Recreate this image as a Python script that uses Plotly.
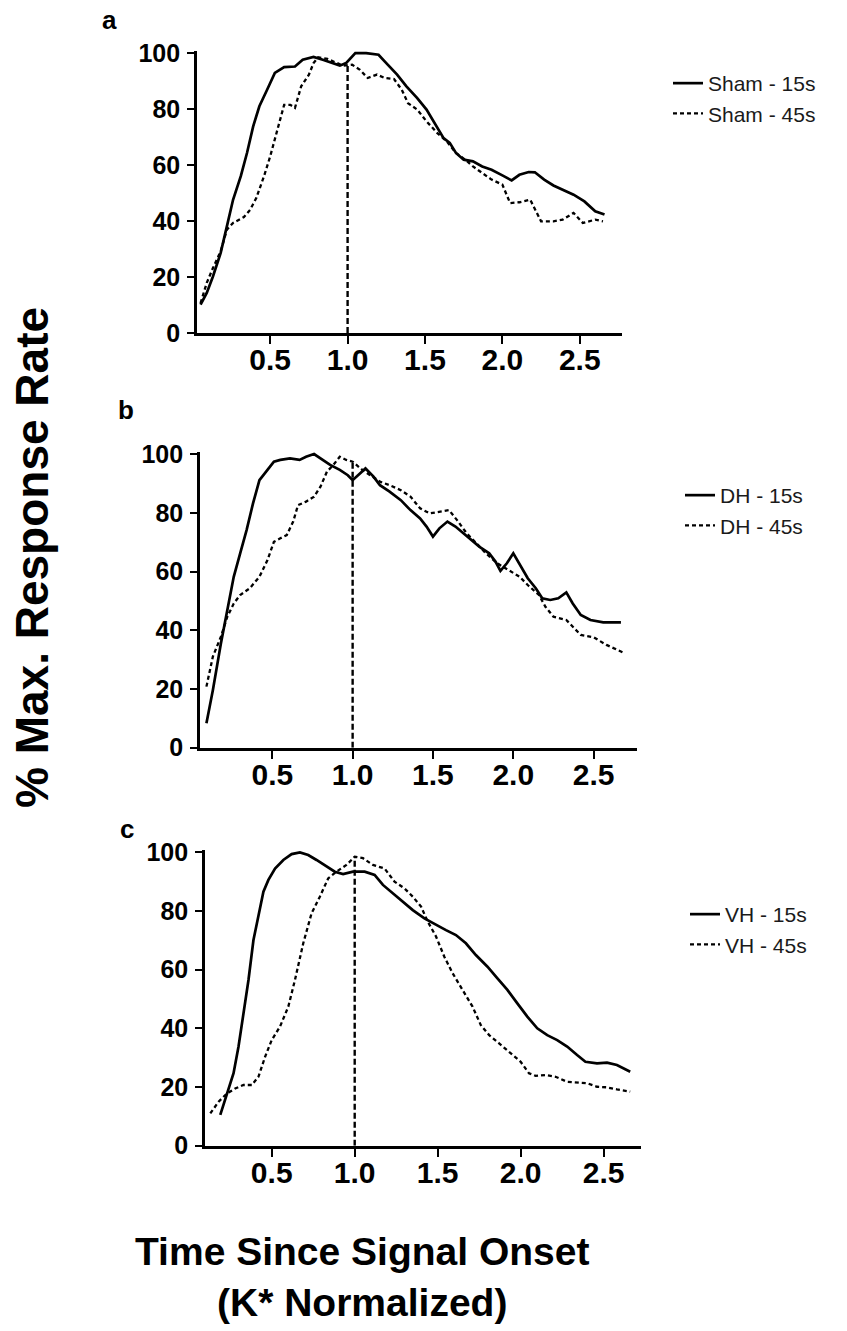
import plotly.graph_objects as go

W, H = 847, 1331

# ---------------- data ----------------
sham15_x = [0.05,0.09,0.13,0.18,0.22,0.26,0.31,0.35,0.39,0.43,0.48,0.53,0.59,0.66,0.71,0.78,0.84,0.91,0.95,0.99,
            1.05,1.12,1.20,1.25,1.32,1.38,1.45,1.51,1.58,1.62,1.66,1.70,1.75,1.81,1.87,1.93,2.00,2.06,2.11,2.17,
            2.21,2.27,2.33,2.39,2.46,2.53,2.60,2.66]
sham15_y = [10.1,14.3,20.2,28.6,38.1,47.6,56.0,64.3,73.8,81.0,86.9,92.9,95.0,95.2,97.6,98.6,97.6,96.4,95.5,96.4,
            100,100,99.4,96.4,92.3,88.1,83.9,79.8,73.2,69.6,67.9,64.3,61.9,61.3,59.5,58.3,56.3,54.5,56.5,57.5,
            57.4,54.8,52.7,51.2,49.4,47.0,43.5,42.3]
sham45_x = [0.05,0.09,0.13,0.18,0.22,0.26,0.33,0.37,0.41,0.46,0.50,0.54,0.59,0.63,0.66,0.70,0.75,0.78,0.81,0.87,
            0.92,0.97,1.03,1.08,1.13,1.19,1.24,1.30,1.35,1.39,1.45,1.51,1.58,1.64,1.70,1.76,1.81,1.87,1.93,2.00,
            2.05,2.11,2.18,2.25,2.33,2.39,2.46,2.52,2.60,2.65]
sham45_y = [10.7,17.9,23.2,29.2,36.9,39.3,41.4,44.0,48.2,56.0,63.1,71.4,81.5,81.5,80.4,88.1,92.3,96.4,98.5,97.9,
            96.7,95.5,95.8,94.0,91.1,92.3,91.1,90.7,86.9,82.1,79.8,75.6,71.4,68.5,64.3,61.9,59.5,57.1,54.8,53.0,
            46.4,46.7,47.6,39.9,39.9,40.5,42.9,39.3,40.5,39.9]

dh15_x = [0.09,0.13,0.18,0.22,0.26,0.30,0.34,0.38,0.42,0.47,0.51,0.55,0.61,0.67,0.71,0.76,0.80,0.86,0.92,0.97,
          1.00,1.05,1.08,1.13,1.17,1.23,1.30,1.36,1.42,1.46,1.50,1.54,1.59,1.64,1.69,1.74,1.79,1.85,1.89,1.92,
          1.96,2.00,2.04,2.09,2.14,2.18,2.23,2.28,2.33,2.37,2.42,2.48,2.56,2.67]
dh15_y = [8.3,19.6,35.5,46.9,58.2,66.2,74.1,83.2,91.1,94.6,97.4,98.0,98.5,98.0,99.1,100,98.5,96.3,94.6,92.8,
          91.1,93.4,95.1,92.3,89.4,87.2,84.3,80.9,78.1,75.3,71.9,74.7,77.0,75.3,73.0,70.7,68.4,66.2,63.3,60.2,
          62.8,66.2,62.2,57.7,54.3,50.9,50.3,50.9,52.9,49.1,45.2,43.5,42.7,42.7]
dh45_x = [0.09,0.13,0.18,0.22,0.26,0.30,0.36,0.42,0.47,0.51,0.55,0.59,0.63,0.66,0.71,0.76,0.80,0.84,0.88,0.92,
          0.96,1.00,1.06,1.11,1.17,1.23,1.30,1.36,1.42,1.48,1.54,1.60,1.65,1.71,1.77,1.83,1.90,1.97,2.04,2.09,
          2.16,2.20,2.25,2.33,2.42,2.50,2.58,2.68]
dh45_y = [20.8,31.0,37.8,44.6,49.1,52.0,54.3,58.2,63.9,70.1,71.3,72.4,77.0,82.6,83.8,85.5,88.9,94.0,96.3,99.1,
          98.0,97.4,94.6,92.8,90.6,89.4,87.7,85.5,81.5,79.8,80.4,80.9,77.5,73.0,69.6,66.2,62.8,60.5,58.2,55.4,
          52.0,48.0,44.6,43.5,38.4,37.6,35.0,32.5]

vh15_x = [0.19,0.23,0.27,0.30,0.33,0.36,0.39,0.42,0.45,0.48,0.52,0.57,0.62,0.67,0.72,0.77,0.83,0.88,0.93,0.99,
          1.06,1.12,1.17,1.23,1.29,1.35,1.42,1.49,1.55,1.61,1.67,1.73,1.80,1.86,1.92,1.98,2.04,2.10,2.16,2.22,
          2.28,2.34,2.39,2.46,2.52,2.58,2.66]
vh15_y = [10.5,17.8,24.7,33.8,45.1,56.5,70.1,78.1,86.6,90.6,94.5,97.4,99.4,100,99.1,97.4,95.1,93.4,92.6,93.4,
          93.4,92.3,88.9,86.0,83.2,80.3,77.5,75.2,73.5,71.8,69.0,65.0,61.0,57.0,53.1,48.5,44.0,40.0,37.7,36.0,
          33.8,30.9,28.6,28.1,28.3,27.5,25.2]
vh45_x = [0.13,0.18,0.23,0.28,0.33,0.38,0.42,0.46,0.50,0.55,0.60,0.64,0.69,0.74,0.79,0.84,0.89,0.95,1.00,1.05,
          1.11,1.18,1.24,1.30,1.35,1.40,1.44,1.49,1.54,1.59,1.65,1.71,1.76,1.81,1.87,1.93,2.00,2.05,2.09,2.15,
          2.21,2.28,2.34,2.40,2.46,2.52,2.58,2.66]
vh45_y = [11.0,15.0,17.8,19.5,20.7,20.7,23.5,30.3,36.0,40.6,47.4,56.5,69.0,79.2,84.9,91.1,93.4,95.7,98.5,98.0,
          95.7,94.5,90.0,87.7,84.9,81.5,76.4,71.3,64.4,58.8,53.1,47.4,41.1,37.7,34.9,32.0,28.6,24.7,23.8,24.1,
          23.5,21.8,21.5,21.3,20.1,19.9,19.2,18.4]

onset_x = [1.0, 1.0]
onset_y_a = [0, 96]
onset_y_b = [0, 98]
onset_y_c = [0, 98.5]

x_tick_vals = [0.5, 1.0, 1.5, 2.0, 2.5]
x_tick_text = ["0.5", "1.0", "1.5", "2.0", "2.5"]
y_tick_vals = [0, 20, 40, 60, 80, 100]
y_tick_text = ["0", "20", "40", "60", "80", "100"]

panel_letters = ["a", "b", "c"]
legend_names = [("Sham - 15s", "Sham - 45s"), ("DH - 15s", "DH - 45s"), ("VH - 15s", "VH - 45s")]
y_title = "% Max. Response Rate"
x_title = "Time Since Signal Onset<br>(K* Normalized)"

# ---------------- layout helpers (pixel -> paper) ----------------
def fx(px):
    return px / W

def fy(py):
    return 1 - py / H

FONT = "Liberation Sans, Arial, sans-serif"

panels = [
    dict(xd=(197, 621.7), xr=(0.027, 2.771), yt=50.8, yb=333.0),
    dict(xd=(200, 637), xr=(0.05, 2.77), yt=451.7, yb=747.7),
    dict(xd=(205, 641), xr=(0.098, 2.725), yt=850.0, yb=1145.7),
]

series = [
    (sham15_x, sham15_y, sham45_x, sham45_y, onset_y_a),
    (dh15_x, dh15_y, dh45_x, dh45_y, onset_y_b),
    (vh15_x, vh15_y, vh45_x, vh45_y, onset_y_c),
]

legend_pos = [(668, 63), (680, 475), (685, 894)]

fig = go.Figure()
layout = dict(
    template="none",
    width=W, height=H, autosize=False,
    margin=dict(l=0, r=0, t=0, b=0, pad=0),
    paper_bgcolor="white", plot_bgcolor="white",
    showlegend=True,
    annotations=[],
)

for i, (p, s) in enumerate(zip(panels, series)):
    sfx = "" if i == 0 else str(i + 1)
    xa, ya = "x" + sfx, "y" + sfx
    leg = "legend" + sfx
    x15, y15, x45, y45, oy = s
    n15, n45 = legend_names[i]
    fig.add_trace(go.Scatter(x=x15, y=y15, mode="lines", name=n15, xaxis=xa, yaxis=ya, legend=leg,
                             line=dict(color="black", width=2.7)))
    fig.add_trace(go.Scatter(x=x45, y=y45, mode="lines", name=n45, xaxis=xa, yaxis=ya, legend=leg,
                             line=dict(color="black", width=2.3, dash="4px,3px")))
    fig.add_trace(go.Scatter(x=onset_x, y=oy, mode="lines", showlegend=False, xaxis=xa, yaxis=ya,
                             line=dict(color="black", width=2.4, dash="6px,3px"), hoverinfo="skip"))

    layout["xaxis" + sfx] = dict(
        domain=[fx(p["xd"][0]), fx(p["xd"][1])], range=list(p["xr"]), anchor=ya,
        automargin=False,
        showline=True, linecolor="black", linewidth=2.6, showgrid=False, zeroline=False,
        ticks="outside", ticklen=8, tickwidth=2.4, tickcolor="black",
        tickvals=x_tick_vals, ticktext=x_tick_text,
        tickfont=dict(family=FONT, size=30, color="black", weight="bold"),
        ticklabelstandoff=-10,
    )
    layout["yaxis" + sfx] = dict(
        domain=[fy(p["yb"]), fy(p["yt"])], range=[0, 100.8], anchor=xa,
        automargin=False,
        showline=True, linecolor="black", linewidth=2.6, showgrid=False, zeroline=False,
        ticks="outside", ticklen=7, tickwidth=2.4, tickcolor="black",
        tickvals=y_tick_vals, ticktext=y_tick_text,
        tickfont=dict(family=FONT, size=25, color="black", weight="bold"),
        ticklabelstandoff=2,
    )
    lx, ly = legend_pos[i]
    layout[leg] = dict(
        x=fx(lx), y=fy(ly), xanchor="left", yanchor="top",
        bgcolor="rgba(0,0,0,0)", borderwidth=0, itemwidth=30,
        font=dict(family=FONT, size=21, color="#1a1a1a"),
        tracegroupgap=0,
    )

letter_pos = [(110, 20), (126, 410), (127, 829)]
for (lx, ly), t in zip(letter_pos, panel_letters):
    layout["annotations"].append(dict(
        text=t, x=fx(lx), y=fy(ly), xref="paper", yref="paper", showarrow=False,
        xanchor="center", yanchor="middle",
        font=dict(family=FONT, size=26, color="black", weight="bold"),
    ))

layout["annotations"].append(dict(
    text=y_title, x=fx(32), y=fy(558), xref="paper", yref="paper", showarrow=False,
    xanchor="center", yanchor="middle", textangle=-90,
    font=dict(family=FONT, size=46, color="black", weight="bold"),
))
layout["annotations"].append(dict(
    text=x_title, x=fx(362), y=fy(1277), xref="paper", yref="paper", showarrow=False,
    xanchor="center", yanchor="middle",
    font=dict(family=FONT, size=39, color="black", weight="bold"),
))

fig.update_layout(**layout)
fig.write_html(
    "out.html",
    post_script="document.body.style.margin='0';document.body.style.padding='0';"
                "document.documentElement.style.overflow='hidden';document.body.style.overflow='hidden';",
)
